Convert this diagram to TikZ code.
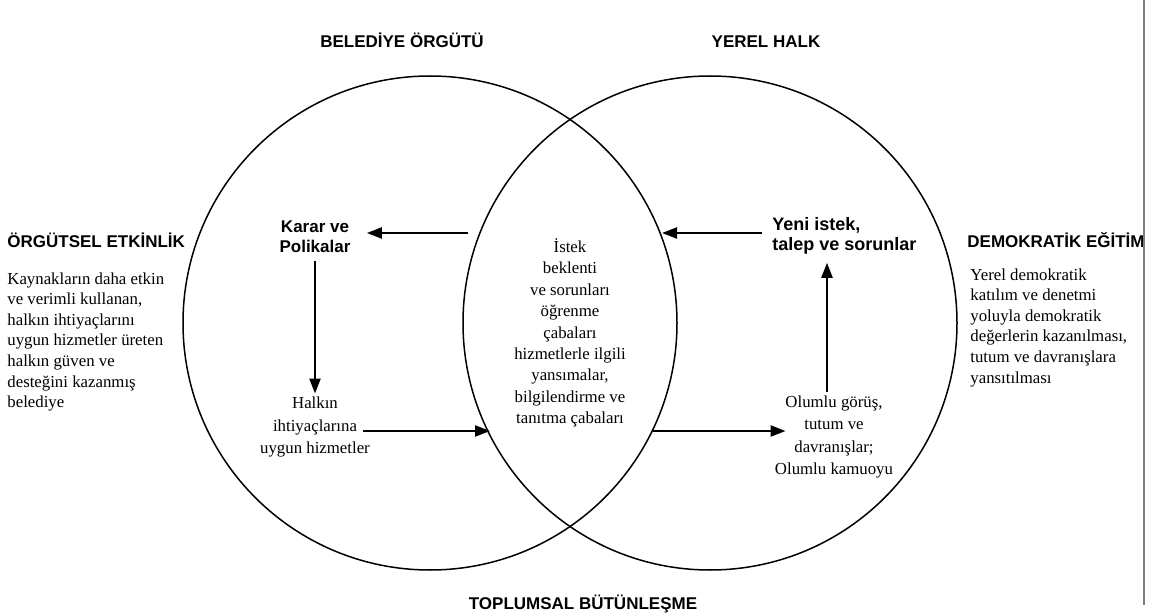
\documentclass[tikz,border=0pt]{standalone}
\usepackage{fontspec}
\setmainfont{Liberation Serif}
\newfontfamily\headfont{Liberation Sans}
\usetikzlibrary{positioning, arrows.meta}

\begin{document}
\begin{tikzpicture}[
    x=0.5pt, y=-0.5pt,
    >={Triangle[length=7.5pt,width=5.5pt]},
    flow/.style={
        ->,
        line width=1.1pt
    },
    ring/.style={
        circle,
        draw,
        line width=0.75pt,
        minimum size=247pt,
        inner sep=0pt
    },
    head/.style={
        font=\headfont\bfseries\fontsize{8.5}{10}\selectfont,
        inner sep=0pt
    },
    strong/.style={
        head,
        align=center,
        inner xsep=8pt,
        inner ysep=4pt
    },
    body/.style={
        font=\fontsize{8.4}{10.3}\selectfont,
        inner sep=0pt,
        align=left
    },
    loose/.style={
        body,
        align=center,
        inner sep=1.5pt,
        font=\fontsize{8.4}{11.2}\selectfont
    }
]
    \useasboundingbox (0,0) rectangle (1153,615);

    % Circles
    \node[ring] (org) at (430,323) {};
    \node[ring] (halk) at (710,323) {};

    % Titles
    \node[head, anchor=base] (orgT) at (402,48) {BELEDİYE ÖRGÜTÜ};
    \node[head, anchor=base] (halkT) at (766,48) {YEREL HALK};
    \node[head, anchor=base] (topT) at (583,609) {TOPLUMSAL BÜTÜNLEŞME};

    % Left side
    \node[head, anchor=base west] (etkT) at (7,248) {ÖRGÜTSEL ETKİNLİK};
    \node[body, anchor=north west] (etk) at (7,272) {Kaynakların daha etkin\\ve verimli kullanan,\\halkın ihtiyaçlarını\\uygun hizmetler üreten\\halkın güven ve\\desteğini kazanmış\\belediye};

    % Right side
    \node[head, anchor=base west] (demT) at (967,248) {DEMOKRATİK EĞİTİM};
    \node[body, anchor=north west] (dem) at (970,268) {Yerel demokratik\\katılım ve denetmi\\yoluyla demokratik\\değerlerin kazanılması,\\tutum ve davranışlara\\yansıtılması};

    % Intersection
    \node[body, align=center, font=\fontsize{8.4}{10.7}\selectfont] (lens) at (570,333) {İstek\\beklenti\\ve sorunları\\öğrenme\\çabaları\\hizmetlerle ilgili\\yansımalar,\\bilgilendirme ve\\tanıtma çabaları};
    \coordinate (lensNW) at (468,233);
    \coordinate (lensSW) at (490,431);
    \coordinate (lensSE) at (653,431);
    \coordinate (lensNE) at (662,233);

    % Municipality loop
    \node[strong] (karar) at (315,237) {Karar ve\\Polikalar};
    \node[loose] (hizmet) at (315,427) {Halkın\\ihtiyaçlarına\\uygun hizmetler};

    % Citizens loop
    \node[loose] (olumlu) at (834,437) {Olumlu görüş,\\tutum ve\\davranışlar;\\Olumlu kamuoyu};
    \node[strong, align=left, anchor=west, font=\headfont\bfseries\fontsize{9}{10}\selectfont] (yeni) at (756,236) {Yeni istek,\\talep ve sorunlar};

    \draw[flow] (lensNW) -- (lensNW -| karar.east);
    \draw[flow] (karar) -- (hizmet);
    \draw[flow] ([xshift=-5pt]hizmet.east |- lensSW) -- (lensSW);
    \draw[flow] (lensSE) -- ([xshift=7pt]olumlu.west |- lensSE);
    \draw[flow] ([xshift=-3.5pt]olumlu.north) -- ([xshift=-3.5pt]olumlu.north |- yeni.south);
    \draw[flow] ([xshift=3pt]yeni.west |- lensNE) -- (lensNE);

    % Page edge
    \draw[gray, line width=0.75pt] (1144,0) -- (1144,605);
\end{tikzpicture}
\end{document}
